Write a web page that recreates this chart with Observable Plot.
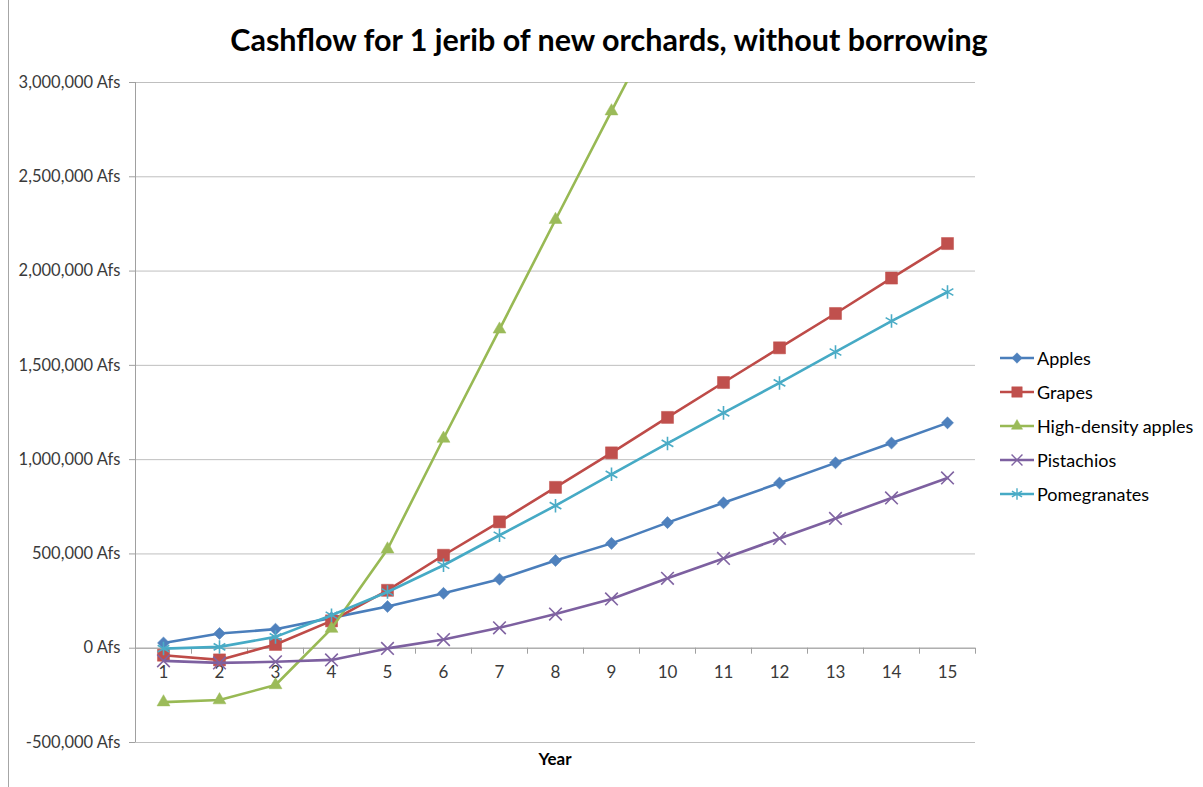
<!DOCTYPE html>
<html>
<head>
<meta charset="utf-8">
<script src="https://cdn.jsdelivr.net/npm/d3@7"></script>
<script src="https://cdn.jsdelivr.net/npm/@observablehq/plot@0.6"></script>
<style>
  body { margin: 0; background: #fff; font-family: Lato, "Open Sans", sans-serif; }
  #chart { position: relative; width: 1203px; height: 787px; overflow: hidden; background: #fff; }
  #chart svg.plot { position: absolute; left: 0; top: 0; }
  #frame { position: absolute; left: 8px; top: 0; height: 787px; border-left: 1px solid #a6a6a6; }
  #title { position: absolute; left: 0; top: 21px; width: 1218px; text-align: center;
           font-weight: bold; font-size: 30.5px; color: #000; white-space: nowrap; }
  #xlabel { position: absolute; left: 505px; width: 100px; top: 748px; text-align: center;
            font-weight: bold; font-size: 17px; color: #000; }
  #legend { position: absolute; left: 1000px; top: 341px; }
  .row { display: flex; align-items: center; height: 34px; font-size: 18px; color: #000; white-space: nowrap; }
  .row svg { margin-right: 3px; }
</style>
</head>
<body>
<div id="chart">
  <div id="frame"></div>
</div>
<script>
// Net cashflow per jerib (Afs), years 1–15
const years = [1, 2, 3, 4, 5, 6, 7, 8, 9, 10, 11, 12, 13, 14, 15];
const apples = [28000, 78000, 101000, 161000, 221000, 291000, 366000, 465000, 556000, 666000, 771000, 876000, 983000, 1088000, 1195000];
const grapes = [-37000, -62000, 20000, 145000, 307000, 493000, 670000, 853000, 1036000, 1224000, 1409000, 1593000, 1775000, 1963000, 2146000];
const highDensityApples = [-286000, -275000, -195000, 104000, 525000, 1112000, 1691000, 2272000, 2848000, 3420000];
const pistachios = [-67000, -78000, -72000, -62000, -1000, 46000, 108000, 181000, 261000, 371000, 476000, 582000, 688000, 797000, 903000];
const pomegranates = [-2000, 7000, 60000, 175000, 298000, 440000, 599000, 756000, 922000, 1086000, 1248000, 1407000, 1571000, 1735000, 1889000];

const yTicks = [-500000, 0, 500000, 1000000, 1500000, 2000000, 2500000, 3000000];
const afs = d => (d < 0 ? "-" : "") + d3.format(",")(Math.abs(d)) + " Afs";

const series = [
  {name: "Apples", values: apples, line: "#4a7ebb", color: "#4f81bd", symbol: "square", r: 4.8, rotate: 45, filled: true},
  {name: "Grapes", values: grapes, line: "#be4b48", color: "#c0504d", symbol: "square", r: 6.8, rotate: 0, filled: true},
  {name: "High-density apples", values: highDensityApples, line: "#98b954", color: "#9bbb59", symbol: "triangle", r: 4.8, rotate: 0, filled: true},
  {name: "Pistachios", values: pistachios, line: "#7d60a0", color: "#8064a2", symbol: "times", r: 5.8, rotate: 0, filled: false},
  {name: "Pomegranates", values: pomegranates, line: "#46aac5", color: "#4bacc6", symbol: "asterisk", r: 6.4, rotate: 0, filled: false}
];

const rows = series.map(s => s.values.map((v, i) => ({year: years[i], value: v})));

const marks = [
  Plot.gridY(yTicks, {stroke: "#bfbfbf", strokeOpacity: 1, strokeWidth: 1}),
  Plot.axisY(yTicks, {tickFormat: afs, tickSize: 6, tickPadding: 9, fontSize: 16.5, color: "#3a3a3a", stroke: "#a0a0a0", label: null}),
  Plot.ruleX([0.5], {stroke: "#a0a0a0"}),
  Plot.ruleY([0], {stroke: "#a0a0a0"}),
  Plot.ruleX(d3.range(1.5, 15.6, 1), {y1: 0, y2: 0, insetTop: 0, insetBottom: -6, stroke: "#a0a0a0"}),
  Plot.text(years, {x: d => d, y: 0, dy: 24, text: d => String(d), fontSize: 17, fill: "#3a3a3a"})
];

series.forEach((s, k) => {
  marks.push(Plot.line(rows[k], {x: "year", y: "value", stroke: s.line, strokeWidth: 2.6, clip: true}));
  marks.push(Plot.dot(rows[k], {
    x: "year", y: "value", symbol: () => s.symbol, r: s.r, rotate: s.rotate,
    fill: s.filled ? s.color : "none", stroke: s.color, strokeWidth: s.filled ? 0.5 : 1.6, clip: true
  }));
});

const chart = Plot.plot({
  width: 1203,
  height: 787,
  marginLeft: 135,
  marginRight: 228,
  marginTop: 82,
  marginBottom: 45,
  style: {fontFamily: "Lato, 'Open Sans', sans-serif", background: "transparent"},
  x: {domain: [0.5, 15.5], axis: null},
  y: {domain: [-500000, 3000000]},
  symbol: {type: "identity"},
  marks
});

const root = document.getElementById("chart");
root.appendChild(chart);

const title = document.createElement("div");
title.id = "title";
title.textContent = "Cashflow for 1 jerib of new orchards, without borrowing";
root.appendChild(title);

const xlabel = document.createElement("div");
xlabel.id = "xlabel";
xlabel.textContent = "Year";
root.appendChild(xlabel);

// Legend: line swatch with the series marker, then the name
const legend = d3.select(root).append("div").attr("id", "legend");
const symbolType = {square: d3.symbolSquare, triangle: d3.symbolTriangle, times: d3.symbolTimes, asterisk: d3.symbolAsterisk};
series.forEach(s => {
  const row = legend.append("div").attr("class", "row");
  const sw = row.append("svg").attr("width", 34).attr("height", 16);
  sw.append("line").attr("x1", 0).attr("x2", 34).attr("y1", 8).attr("y2", 8)
    .attr("stroke", s.line).attr("stroke-width", 2.6);
  sw.append("path")
    .attr("d", d3.symbol(symbolType[s.symbol], Math.PI * s.r * s.r * 0.75)())
    .attr("transform", `translate(17,8) rotate(${s.rotate})`)
    .attr("fill", s.filled ? s.color : "none")
    .attr("stroke", s.color)
    .attr("stroke-width", s.filled ? 0.5 : 1.4);
  row.append("span").text(s.name);
});
</script>
</body>
</html>
